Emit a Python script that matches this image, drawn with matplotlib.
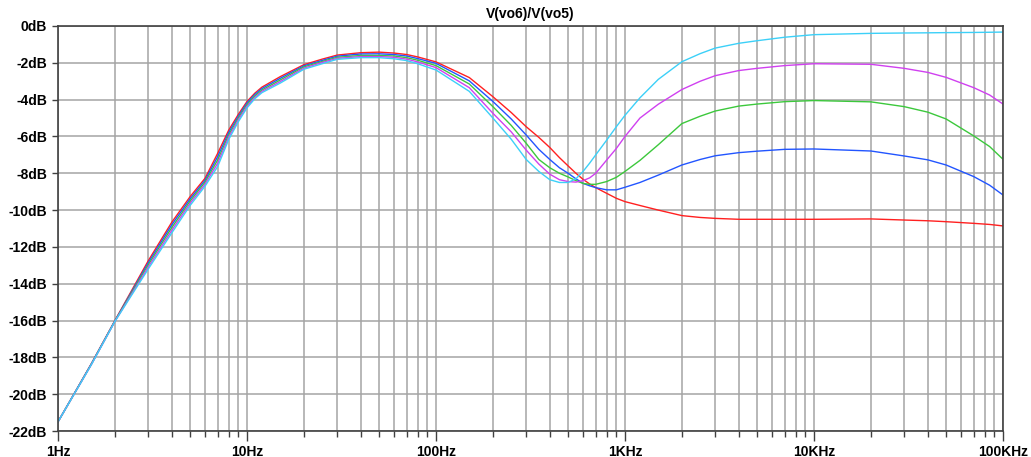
import numpy as np
import matplotlib
matplotlib.use("Agg")
import matplotlib.pyplot as plt
from matplotlib.ticker import FixedLocator, NullFormatter

freq = [1, 1.5, 2, 3, 4, 5, 6, 7, 8, 9, 10, 11,
        12, 15, 20, 25, 30, 40, 50, 60, 70, 80,
        100, 150, 200, 250, 300, 350, 400, 450, 500, 550,
        600, 650, 700, 800, 900, 1000, 1200, 1500, 2000, 2500,
        3000, 4000, 5000, 7000, 10000, 20000, 30000, 40000, 50000, 70000,
        85000, 100000]

red = [-21.5, -18.35, -16.0, -12.76, -10.66, -9.27, -8.27, -6.91, -5.66, -4.8, -4.1, -3.65,
       -3.32, -2.75, -2.1, -1.8, -1.58, -1.45, -1.42, -1.47, -1.55, -1.68,
       -1.95, -2.8, -3.84, -4.7, -5.47, -6.05, -6.6, -7.15, -7.6, -8.0,
       -8.33, -8.58, -8.78, -9.09, -9.36, -9.54, -9.75, -10.0, -10.3, -10.4,
       -10.45, -10.5, -10.5, -10.5, -10.5, -10.48, -10.54, -10.58, -10.63, -10.72,
       -10.78, -10.86]

blue = [-21.5, -18.36, -16.02, -12.87, -10.8, -9.39, -8.38, -7.09, -5.79, -4.9, -4.18, -3.72,
        -3.4, -2.84, -2.16, -1.87, -1.64, -1.52, -1.51, -1.55, -1.63, -1.77,
        -2.03, -2.98, -4.1, -5.05, -5.92, -6.7, -7.25, -7.7, -8.0, -8.3,
        -8.55, -8.68, -8.78, -8.9, -8.9, -8.76, -8.5, -8.1, -7.55, -7.25,
        -7.05, -6.88, -6.8, -6.7, -6.68, -6.79, -7.06, -7.27, -7.55, -8.18,
        -8.65, -9.18]

green = [-21.5, -18.38, -16.03, -12.98, -10.95, -9.51, -8.48, -7.27, -5.92, -5.0, -4.27, -3.8,
         -3.48, -2.93, -2.22, -1.93, -1.7, -1.6, -1.6, -1.63, -1.72, -1.86,
         -2.15, -3.15, -4.38, -5.4, -6.37, -7.25, -7.7, -8.0, -8.2, -8.4,
         -8.55, -8.6, -8.6, -8.45, -8.22, -7.9, -7.3, -6.45, -5.3, -4.9,
         -4.62, -4.35, -4.24, -4.11, -4.05, -4.12, -4.38, -4.68, -5.05, -5.97,
         -6.55, -7.24]

magenta = [-21.5, -18.4, -16.05, -13.1, -11.1, -9.63, -8.59, -7.45, -6.04, -5.1, -4.36, -3.88,
           -3.55, -3.02, -2.29, -1.98, -1.76, -1.66, -1.66, -1.7, -1.8, -1.95,
           -2.26, -3.35, -4.74, -5.75, -6.74, -7.5, -8.05, -8.35, -8.45, -8.48,
           -8.4, -8.25, -8.0, -7.28, -6.65, -6.0, -5.0, -4.25, -3.45, -3.0,
           -2.7, -2.42, -2.3, -2.15, -2.05, -2.08, -2.3, -2.52, -2.79, -3.35,
           -3.75, -4.24]

cyan = [-21.5, -18.4, -16.05, -13.21, -11.24, -9.75, -8.7, -7.63, -6.17, -5.2, -4.45, -3.95,
        -3.62, -3.1, -2.35, -2.05, -1.81, -1.72, -1.72, -1.78, -1.88, -2.05,
        -2.39, -3.55, -5.0, -6.15, -7.25, -7.9, -8.35, -8.5, -8.5, -8.3,
        -7.9, -7.45, -7.0, -6.2, -5.47, -4.85, -3.9, -2.9, -1.94, -1.5,
        -1.2, -0.94, -0.8, -0.61, -0.47, -0.4, -0.38, -0.37, -0.36, -0.35,
        -0.34, -0.33]

series = [("red", red, "#ff2020"), ("blue", blue, "#2255ff"), ("green", green, "#3cc83c"),
          ("magenta", magenta, "#d040f0"), ("cyan", cyan, "#3cd0f8")]

x_major = [1, 10, 100, 1000, 10000, 100000]
x_labels = ["1Hz", "10Hz", "100Hz", "1KHz", "10KHz", "100KHz"]
y_ticks = [0, -2, -4, -6, -8, -10, -12, -14, -16, -18, -20, -22]
y_labels = ["0dB", "-2dB", "-4dB", "-6dB", "-8dB", "-10dB", "-12dB", "-14dB", "-16dB",
            "-18dB", "-20dB", "-22dB"]
title = "V(vo6)/V(vo5)"

plt.rcParams['font.family'] = ['Liberation Sans', 'DejaVu Sans']

fig = plt.figure(figsize=(10.31, 4.57), dpi=100)
ax = fig.add_axes([58/1031, 1 - 431/457, (1003-58)/1031, (431-26)/457])

ax.set_xscale("log")
ax.set_xlim(1, 100000)
ax.set_ylim(-22, 0)

x_minor = [m * d for d in [1, 10, 100, 1000, 10000] for m in range(2, 10)]
ax.xaxis.set_major_locator(FixedLocator(x_major))
ax.xaxis.set_minor_locator(FixedLocator(x_minor))
ax.xaxis.set_minor_formatter(NullFormatter())
ax.set_xticks(x_major)
ax.set_xticklabels(x_labels, fontsize=10, fontweight="bold")
ax.set_yticks(y_ticks)
ax.set_yticklabels(y_labels, fontsize=10, fontweight="bold")

gridc = "#a4a4a4"
ax.grid(True, which="both", axis="x", color=gridc, linewidth=1.1)
ax.grid(True, which="major", axis="y", color=gridc, linewidth=1.1)
ax.set_axisbelow(True)

for s in ax.spines.values():
    s.set_color("#404040")
    s.set_linewidth(1.2)

ax.tick_params(axis="x", which="major", direction="out", length=7, width=1.0,
               color="#404040", pad=3)
ax.tick_params(axis="x", which="minor", direction="out", length=4, width=1.0,
               color="#404040")
ax.tick_params(axis="y", which="major", direction="out", length=4, width=1.0,
               color="#404040", pad=4)
ax.tick_params(axis="y", which="minor", left=False)

for name, vals, col in series:
    ax.plot(freq, vals, color=col, linewidth=1.0, solid_joinstyle="round")

fig.text(530/1031, 1 - 14/457, title, ha="center", va="center", fontsize=10,
         fontweight="bold")

fig.savefig("out.png", dpi=100)
